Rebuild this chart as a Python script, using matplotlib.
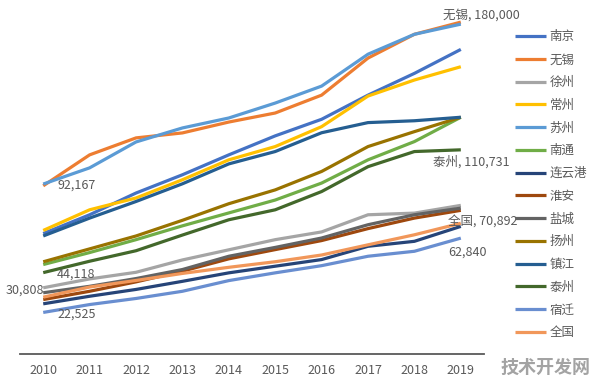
import matplotlib
matplotlib.use("Agg")
import matplotlib.pyplot as plt

plt.rcParams['font.family'] = ['Noto Sans CJK SC', 'DejaVu Sans']

# 人均GDP (元)
years = ['2010', '2011', '2012', '2013', '2014', '2015', '2016', '2017', '2018', '2019']

nanjing = [65300, 75500, 87300, 97200, 108000, 118300, 127300, 140400, 152200, 165200]
wuxi = [91200, 108000, 117200, 119900, 125800, 130700, 140400, 160500, 173400, 180000]
xuzhou = [35900, 40700, 44300, 51000, 56500, 62000, 66200, 75500, 76400, 80600]
changzhou = [67000, 78200, 84600, 94500, 105300, 112500, 123300, 139900, 148600, 155800]
suzhou = [92167, 100950, 115000, 122600, 128000, 136100, 145300, 162600, 173400, 178900]
nantong = [48500, 55000, 62000, 69500, 76500, 83500, 92700, 105300, 115200, 128400]
lianyungang = [27200, 31300, 35000, 39400, 44000, 47600, 51200, 58400, 61100, 69200]
huaian = [29500, 34000, 39100, 44900, 51600, 56600, 61500, 68000, 73700, 77900]
yancheng = [33200, 36700, 40900, 45800, 53000, 57800, 62900, 70100, 75500, 79100]
yangzhou = [50000, 57000, 64000, 72500, 81500, 89000, 99000, 112500, 120600, 128400]
zhenjiang = [64000, 73700, 82700, 92300, 103100, 109800, 120000, 125500, 126500, 128400]
taizhou = [44118, 50300, 56000, 64500, 72800, 78200, 88100, 101600, 109800, 110731]
suqian = [22525, 26800, 30100, 34000, 39800, 44000, 47900, 53000, 55700, 62840]
quanguo = [30808, 36302, 39874, 43684, 47005, 50028, 53680, 59201, 64644, 70892]

names = ['南京', '无锡', '徐州', '常州', '苏州', '南通', '连云港', '淮安',
         '盐城', '扬州', '镇江', '泰州', '宿迁', '全国']
series = [nanjing, wuxi, xuzhou, changzhou, suzhou, nantong, lianyungang, huaian,
          yancheng, yangzhou, zhenjiang, taizhou, suqian, quanguo]
colors = ['#4472C4', '#ED7D31', '#A5A5A5', '#FFC000', '#5B9BD5', '#70AD47', '#264478',
          '#9E480E', '#636363', '#997300', '#255E91', '#43682B', '#698ED0', '#F1975A']

fig = plt.figure(figsize=(5.96, 3.86), dpi=100)
ax = fig.add_axes([0.0336, 0.083, 0.7785, 0.917])

x = list(range(len(years)))
for name, vals, c in zip(names, series, colors):
    ax.plot(x, vals, color=c, lw=2.3, label=name, solid_capstyle='butt')

ax.set_xlim(-0.5, len(years) - 0.5)
ax.set_ylim(0, 192000)
ax.set_xticks(x)
ax.set_xticklabels(years, fontsize=9, color='#595959')
ax.set_yticks([])
ax.tick_params(axis='x', length=0, pad=7)
for s in ['top', 'right', 'left']:
    ax.spines[s].set_visible(False)
ax.spines['bottom'].set_color('#595959')
ax.spines['bottom'].set_linewidth(1.3)

# 数据标签
lab = dict(textcoords='offset points', fontsize=9, color='#595959', va='center')
ax.annotate('无锡, 180,000', xy=(9, wuxi[9]), xytext=(-13, 5), ha='left', **lab)
ax.annotate('92,167', xy=(0, suzhou[0]), xytext=(10, -1), ha='left', **lab)
ax.annotate('44,118', xy=(0, taizhou[0]), xytext=(10, -1), ha='left', **lab)
ax.annotate('30,808', xy=(0, quanguo[0]), xytext=(1, 5), ha='right', **lab)
ax.annotate('22,525', xy=(0, suqian[0]), xytext=(10, -1), ha='left', **lab)
ax.annotate('泰州, 110,731', xy=(9, taizhou[9]), xytext=(-20, -9), ha='left', **lab)
ax.annotate('全国, 70,892', xy=(9, quanguo[9]), xytext=(-9, 1), ha='left', **lab)
ax.annotate('62,840', xy=(9, suqian[9]), xytext=(-9, -10), ha='left', **lab)

leg = fig.legend(loc='upper left', bbox_to_anchor=(0.855, 0.934), frameon=False,
                 fontsize=9, handlelength=2.5, handletextpad=0.3, labelspacing=0.78,
                 borderaxespad=0)
for t in leg.get_texts():
    t.set_color('#595959')

fig.text(0.99, 0.047, '技术开发网', ha='right', va='center', fontsize=13,
         fontweight='bold', color='#8c8c8c', alpha=0.8)

fig.savefig('out.png', dpi=100)
